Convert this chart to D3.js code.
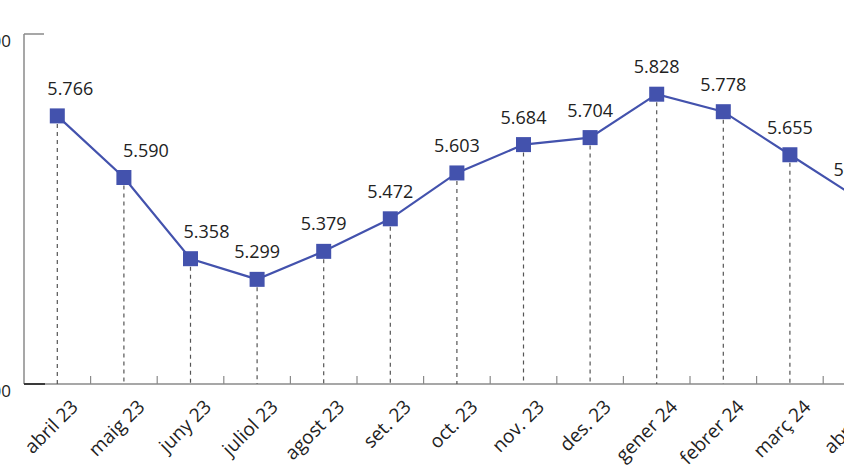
<!DOCTYPE html>
<html>
<head>
<meta charset="utf-8">
<script src="https://cdn.jsdelivr.net/npm/d3@7"></script>
<style>
  body { margin: 0; background: #fff; }
  svg { display: block; font-family: "Open Sans", sans-serif; }
</style>
</head>
<body>
<div id="chart"></div>
<script>
// months and values
const months = ["abril 23", "maig 23", "juny 23", "juliol 23", "agost 23", "set. 23", "oct. 23",
  "nov. 23", "des. 23", "gener 24", "febrer 24", "març 24", "abril 24"];
const values = [5.766, 5.590, 5.358, 5.299, 5.379, 5.472, 5.603, 5.684, 5.704, 5.828, 5.778, 5.655, 5.533];
const yTicks = [5.0, 6.0];

const width = 844, height = 474;
const svg = d3.select("#chart").append("svg")
  .attr("width", width)
  .attr("height", height);

const x = d3.scaleBand()
  .domain(months)
  .range([24, 24 + 66.6 * months.length]);

const y = d3.scaleLinear()
  .domain([5.0, 6.0])
  .range([384, 34]);

const fmt = v => d3.format(".3f")(v);

const blue = "#4352ad";
const cx = d => x(d) + x.bandwidth() / 2;
// a few labels are nudged right so they clear the line
const labelShift = { "abril 23": 13, "maig 23": 22, "juny 23": 16 };

// y axis
svg.append("line")
  .attr("x1", 24).attr("x2", 24)
  .attr("y1", y(6)).attr("y2", y(5))
  .attr("stroke", "#8a8a8a").attr("stroke-width", 1.5);
svg.append("line")
  .attr("x1", 24).attr("x2", 44)
  .attr("y1", y(6)).attr("y2", y(6))
  .attr("stroke", "#8a8a8a").attr("stroke-width", 1.5);

svg.selectAll(".ylab")
  .data(yTicks)
  .enter()
  .append("text")
  .attr("x", 11)
  .attr("y", d => y(d) + 12.5)
  .attr("text-anchor", "end")
  .attr("font-size", 17)
  .attr("fill", "#222")
  .text(d => d.toFixed(3));

// x axis
svg.append("line")
  .attr("x1", 24).attr("x2", width)
  .attr("y1", y(5)).attr("y2", y(5))
  .attr("stroke", "#8a8a8a").attr("stroke-width", 1.5);
svg.append("line")
  .attr("x1", 24).attr("x2", 45)
  .attr("y1", y(5)).attr("y2", y(5))
  .attr("stroke", "#3a3a3a").attr("stroke-width", 2);

svg.selectAll(".xtick")
  .data(months.slice(1))
  .enter()
  .append("line")
  .attr("x1", d => x(d)).attr("x2", d => x(d))
  .attr("y1", y(5)).attr("y2", y(5) - 8)
  .attr("stroke", "#8a8a8a").attr("stroke-width", 1.2);

svg.selectAll(".xlab")
  .data(months)
  .enter()
  .append("text")
  .attr("transform", d => `translate(${cx(d) + 22},${y(5) + 24}) rotate(-45)`)
  .attr("text-anchor", "end")
  .attr("font-size", 19)
  .attr("fill", "#222")
  .text(d => d);

// dashed drop lines
svg.selectAll(".drop")
  .data(months)
  .enter()
  .append("line")
  .attr("x1", d => cx(d)).attr("x2", d => cx(d))
  .attr("y1", (d, i) => y(values[i]) + 8)
  .attr("y2", y(5))
  .attr("stroke", "#555")
  .attr("stroke-width", 1.2)
  .attr("stroke-dasharray", "4,4");

// line
const line = d3.line()
  .x((d, i) => cx(months[i]))
  .y(d => y(d));
svg.append("path")
  .datum(values)
  .attr("d", line)
  .attr("fill", "none")
  .attr("stroke", blue)
  .attr("stroke-width", 2.2);

// markers
svg.selectAll(".pt")
  .data(values)
  .enter()
  .append("rect")
  .attr("x", (d, i) => cx(months[i]) - 7.5)
  .attr("y", d => y(d) - 7.5)
  .attr("width", 15)
  .attr("height", 15)
  .attr("fill", blue);

// value labels
svg.selectAll(".vlab")
  .data(values)
  .enter()
  .append("text")
  .attr("x", (d, i) => cx(months[i]) + (labelShift[months[i]] || 0))
  .attr("y", d => y(d) - 21)
  .attr("text-anchor", "middle")
  .attr("font-size", 18)
  .attr("fill", "#222")
  .text(d => fmt(d));
</script>
</body>
</html>
